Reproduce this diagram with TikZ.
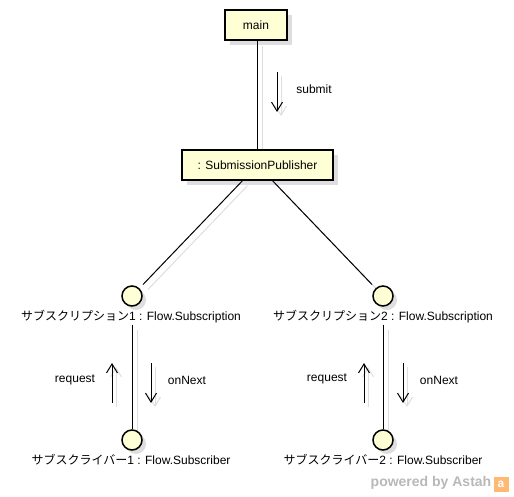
\documentclass[tikz,border=0pt]{standalone}
\usepackage{fontspec}
\setmainfont{Liberation Sans}
\newfontfamily\cjk{Noto Sans CJK JP}
\usetikzlibrary{arrows.meta,shadows}
\pgfdeclarelayer{back}
\pgfsetlayers{back,main}
\definecolor{objfill}{RGB}{255,255,214}
\definecolor{shade}{RGB}{222,222,222}
\tikzset{
	every node/.style={font=\fontsize{12}{14}\selectfont},
	obj/.style={draw,line width=1.6pt,fill=objfill,minimum height=30pt,inner sep=0pt,
		drop shadow={shadow xshift=5pt,shadow yshift=-5pt,fill=shade,opacity=1}},
	lolli/.style={draw,circle,line width=1.5pt,fill=objfill,minimum size=20pt,inner sep=0pt,
		drop shadow={shadow xshift=4pt,shadow yshift=-4pt,fill=shade,opacity=1}},
	link/.style={line width=1pt},
	ghost/.style={draw=shade,line width=1pt,transform canvas={shift={(5pt,-5pt)}}},
	msg/.style={line width=1pt,-{Straight Barb[length=9pt,width=11pt]}},
}
\begin{document}
\begin{tikzpicture}[x=1pt,y=-1pt]
			\useasboundingbox (0,0) rectangle (514,496);
			\node[obj,minimum width=62pt] (main) at (256,25) {main};
			\node[obj,minimum width=151pt] (pub) at (257.5,165) {: SubmissionPublisher};
			\node[lolli] (sub1) at (132,296) {};
			\node[lolli] (sub2) at (383,296) {};
			\node[lolli] (rcv1) at (132,440) {};
			\node[lolli] (rcv2) at (383,440) {};
			\node[inner sep=1pt] (sub1name) at (131,317) {{\cjk サブスクリプション}1 : Flow.Subscription};
			\node[inner sep=1pt] (sub2name) at (383,317) {{\cjk サブスクリプション}2 : Flow.Subscription};
			\node (rcv1name) at (131,460) {{\cjk サブスクライバー}1 : Flow.Subscriber};
			\node (rcv2name) at (383,460) {{\cjk サブスクライバー}2 : Flow.Subscriber};
			\begin{pgfonlayer}{back}
				\draw[ghost] (main.south -| pub) -- (pub.north);
				\draw[ghost,shorten >=5pt] (pub) -- (sub1);
				\draw[ghost,shorten >=5pt] (pub) -- (sub2);
				\draw[ghost] (sub1name.south -| sub1) -- (rcv1);
				\draw[ghost] (sub2name.south -| sub2) -- (rcv2);
			\end{pgfonlayer}
			\draw[link] (main.south -| pub) -- (pub.north);
			\draw[link,shorten >=5pt] (pub) -- (sub1);
			\draw[link,shorten >=5pt] (pub) -- (sub2);
			\draw[link] (sub1name.south -| sub1) -- (rcv1);
			\draw[link] (sub2name.south -| sub2) -- (rcv2);
			\coordinate (s0) at (277,72);
			\coordinate (s1) at (277,112);
			\coordinate (q0) at (112,403);
			\coordinate (q1) at (112,363);
			\coordinate (n0) at (151,363);
			\coordinate (n1) at (151,403);
			\coordinate (u0) at (364,403);
			\coordinate (u1) at (364,363);
			\coordinate (m0) at (403,363);
			\coordinate (m1) at (403,403);
			\foreach \a/\b in {s0/s1,q0/q1,n0/n1,u0/u1,m0/m1}{
				\draw[msg,draw=shade,transform canvas={shift={(4pt,-4pt)}}] (\a) -- (\b);
				\draw[msg] (\a) -- (\b);
			}
			\node (submit) at (314,89) {submit};
			\node (req1) at (75,380) {request};
			\node (next1) at (187,380) {onNext};
			\node (req2) at (327,379) {request};
			\node (next2) at (439,380) {onNext};
			\node[text=black!28,font=\fontsize{14}{16}\selectfont\bfseries] (brand) at (431,483) {powered by Astah};
			\node[fill=orange!55,text=white,inner sep=1pt,minimum size=15pt,font=\fontsize{12}{14}\selectfont\bfseries] (logo) at (501,484) {a};
		\end{tikzpicture}
\end{document}
